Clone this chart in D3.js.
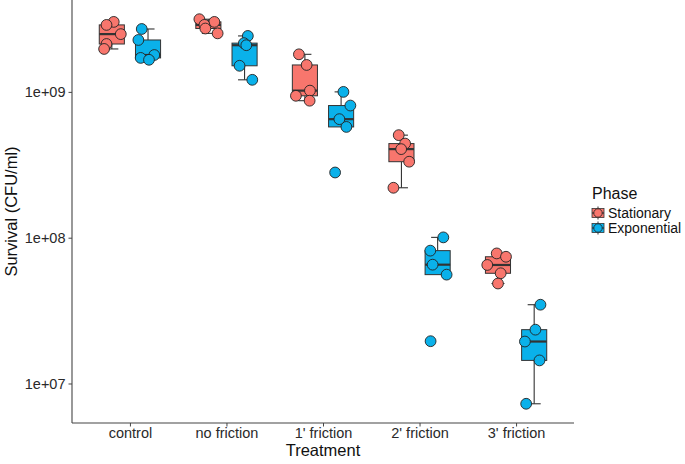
<!DOCTYPE html>
<html>
<head>
<meta charset="utf-8">
<script src="https://cdn.jsdelivr.net/npm/d3@7"></script>
<style>
  html, body { margin: 0; padding: 0; background: #fff; }
  svg { display: block; font-family: "Liberation Sans", Arial, sans-serif; }
</style>
</head>
<body>
<svg id="chart" width="685" height="464"></svg>
<script>
// ---- data ----
const categories = ["control", "no friction", "1' friction", "2' friction", "3' friction"];
const phases = ["Stationary", "Exponential"];
const phaseColors = ["#F8766D", "#0AB1EA"];
const yTicks = [1e7, 1e8, 1e9];
const yTickLabels = ["1e+07", "1e+08", "1e+09"];

const stationaryValues = [
  [3.02e9, 2.88e9, 2.49e9, 2.13e9, 1.97e9],
  [3.15e9, 3.02e9, 2.88e9, 2.72e9, 2.52e9],
  [1.81e9, 1.53e9, 1.02e9, 0.94e9, 0.87e9],
  [5.05e8, 4.42e8, 4.05e8, 3.32e8, 2.20e8],
  [7.8e7, 7.4e7, 6.5e7, 5.7e7, 4.85e7]
];
const exponentialValues = [
  [2.70e9, 2.27e9, 1.79e9, 1.71e9, 1.66e9],
  [2.42e9, 2.16e9, 2.09e9, 1.51e9, 1.21e9],
  [1.0e9, 8.06e8, 6.5e8, 5.75e8, 2.8e8],
  [1.005e8, 8.15e7, 6.53e7, 5.58e7, 1.95e7],
  [3.47e7, 2.34e7, 1.94e7, 1.44e7, 7.26e6]
];
// horizontal jitter of each point, in category units
const stationaryJitter = [
  [0.02, -0.055, 0.093, -0.055, -0.08],
  [-0.093, 0.062, -0.041, -0.031, 0.096],
  [-0.062, 0.018, 0.052, -0.093, 0.049],
  [-0.028, 0.038, -0.003, 0.08, -0.083],
  [-0.013, 0.083, -0.111, 0.028, 0.0]
];
const exponentialJitter = [
  [-0.065, -0.1, 0.065, -0.076, 0.01],
  [0.034, -0.007, 0.018, -0.052, 0.08],
  [0.024, 0.096, -0.018, 0.055, -0.062],
  [0.059, -0.076, -0.052, 0.093, -0.073],
  [0.065, 0.013, -0.096, 0.055, -0.083]
];
const seriesValues = [stationaryValues, exponentialValues];
const seriesJitter = [stationaryJitter, exponentialJitter];

// ---- layout ----
const panel = { left: 72, right: 574, top: 0, bottom: 423 };
const svg = d3.select("#chart");

const x = d3.scalePoint().domain(categories).range([panel.left, panel.right]).padding(0.6);
const step = x.step();
const dodge = 0.1875 * step;
const boxW = 0.26 * step;
const capW = 0.135 * step;

const allVals = seriesValues.flat(2);
const lmin = Math.log10(d3.min(allVals)), lmax = Math.log10(d3.max(allVals));
const pad = (lmax - lmin) * 0.05;
const y = d3.scaleLog().domain([10 ** (lmin - pad), 10 ** (lmax + pad)]).range([panel.bottom, panel.top]);

function stats(vals) {
  const l = vals.map(Math.log10).sort(d3.ascending);
  const q1 = d3.quantileSorted(l, 0.25), med = d3.quantileSorted(l, 0.5), q3 = d3.quantileSorted(l, 0.75);
  const iqr = q3 - q1;
  const lo = d3.min(l.filter(v => v >= q1 - 1.5 * iqr));
  const hi = d3.max(l.filter(v => v <= q3 + 1.5 * iqr));
  const p = v => 10 ** v;
  return { q1: p(q1), med: p(med), q3: p(q3), lo: p(lo), hi: p(hi) };
}

const g = svg.append("g");
const stroke = "#333";

phases.forEach((ph, pi) => {
  const off = pi === 0 ? -dodge : dodge;
  categories.forEach((cat, ci) => {
    const vals = seriesValues[pi][ci];
    const s = stats(vals);
    const cx = x(cat) + off;
    const bg = g.append("g");
    // whiskers
    bg.append("line").attr("x1", cx).attr("x2", cx).attr("y1", y(s.q3)).attr("y2", y(s.hi))
      .attr("stroke", stroke).attr("stroke-width", 1.1);
    bg.append("line").attr("x1", cx).attr("x2", cx).attr("y1", y(s.q1)).attr("y2", y(s.lo))
      .attr("stroke", stroke).attr("stroke-width", 1.1);
    if (s.hi > s.q3) bg.append("line").attr("x1", cx - capW / 2).attr("x2", cx + capW / 2)
      .attr("y1", y(s.hi)).attr("y2", y(s.hi)).attr("stroke", stroke).attr("stroke-width", 1.1);
    if (s.lo < s.q1) bg.append("line").attr("x1", cx - capW / 2).attr("x2", cx + capW / 2)
      .attr("y1", y(s.lo)).attr("y2", y(s.lo)).attr("stroke", stroke).attr("stroke-width", 1.1);
    // box
    bg.append("rect").attr("x", cx - boxW / 2).attr("width", boxW)
      .attr("y", y(s.q3)).attr("height", y(s.q1) - y(s.q3))
      .attr("fill", phaseColors[pi]).attr("stroke", stroke).attr("stroke-width", 1);
    bg.append("line").attr("x1", cx - boxW / 2).attr("x2", cx + boxW / 2)
      .attr("y1", y(s.med)).attr("y2", y(s.med)).attr("stroke", stroke).attr("stroke-width", 2.2);
  });
});

// points
phases.forEach((ph, pi) => {
  const off = pi === 0 ? -dodge : dodge;
  categories.forEach((cat, ci) => {
    seriesValues[pi][ci].forEach((v, k) => {
      g.append("circle")
        .attr("cx", x(cat) + off + seriesJitter[pi][ci][k] * step)
        .attr("cy", y(v)).attr("r", 5.4)
        .attr("fill", phaseColors[pi]).attr("stroke", "#222").attr("stroke-width", 0.9);
    });
  });
});

// axes
const axisColor = "#444";
const yAxis = svg.append("g").attr("transform", `translate(${panel.left},0)`)
  .call(d3.axisLeft(y).tickValues(yTicks).tickFormat((d, i) => yTickLabels[i]).tickSize(3.5).tickPadding(3));
const xAxis = svg.append("g").attr("transform", `translate(0,${panel.bottom})`)
  .call(d3.axisBottom(x).tickSize(3.5).tickPadding(1.5));
[yAxis, xAxis].forEach(a => {
  a.select(".domain").attr("stroke", axisColor).attr("stroke-width", 1.1);
  a.selectAll(".tick line").attr("stroke", axisColor).attr("stroke-width", 1);
  a.selectAll(".tick text").attr("fill", "#2a2a2a").attr("font-size", "14.5px")
    .attr("font-family", "Liberation Sans, Arial, sans-serif");
});
yAxis.select(".domain").attr("d", `M0,${panel.top}V${panel.bottom}`);
xAxis.select(".domain").attr("d", `M${panel.left},0H${panel.right}`);

// titles
svg.append("text").attr("x", (panel.left + panel.right) / 2).attr("y", 456)
  .attr("text-anchor", "middle").attr("font-size", "16.5px").attr("fill", "#111").text("Treatment");
svg.append("text").attr("transform", `translate(17,${(panel.top + panel.bottom) / 2}) rotate(-90)`)
  .attr("text-anchor", "middle").attr("font-size", "16.5px").attr("fill", "#111").text("Survival (CFU/ml)");

// legend
const lg = svg.append("g");
lg.append("text").attr("x", 592).attr("y", 199).attr("font-size", "16px").attr("fill", "#111").text("Phase");
phases.forEach((ph, pi) => {
  const cy = 213 + pi * 15, cx = 598;
  const k = lg.append("g");
  k.append("line").attr("x1", cx).attr("x2", cx).attr("y1", cy - 6.5).attr("y2", cy + 6.5)
    .attr("stroke", stroke).attr("stroke-width", 1);
  k.append("rect").attr("x", cx - 6).attr("y", cy - 4.5).attr("width", 12).attr("height", 9)
    .attr("fill", phaseColors[pi]).attr("stroke", stroke).attr("stroke-width", 0.8);
  k.append("line").attr("x1", cx - 6).attr("x2", cx + 6).attr("y1", cy).attr("y2", cy)
    .attr("stroke", stroke).attr("stroke-width", 1.2);
  k.append("circle").attr("cx", cx).attr("cy", cy).attr("r", 4.2)
    .attr("fill", phaseColors[pi]).attr("stroke", "#222").attr("stroke-width", 0.8);
  lg.append("text").attr("x", 608).attr("y", cy + 5).attr("font-size", "14px").attr("fill", "#111").text(ph);
});
</script>
</body>
</html>
